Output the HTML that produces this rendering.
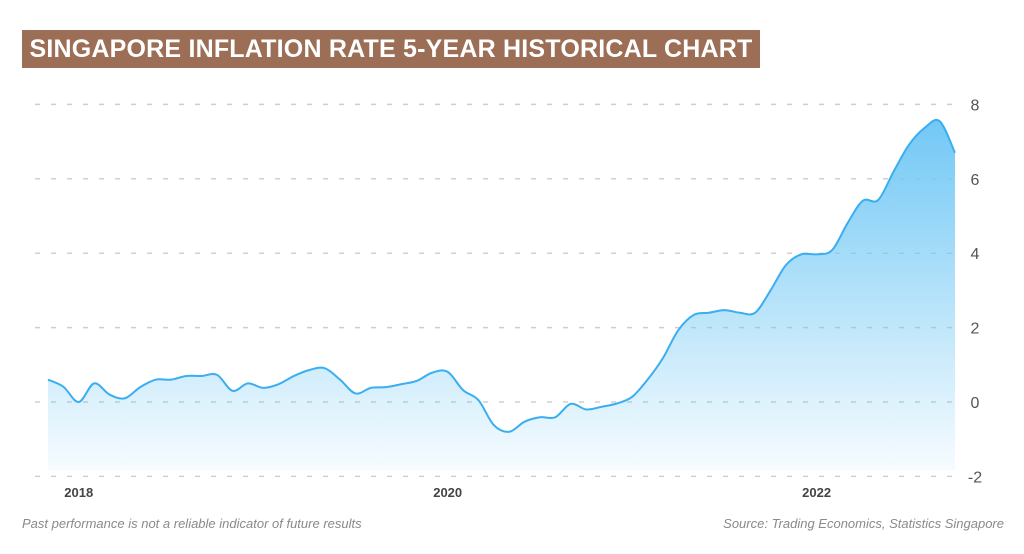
<!DOCTYPE html>
<html><head><meta charset="utf-8"><style>
body{margin:0;width:1024px;height:554px;background:#fff;overflow:hidden;font-family:"Liberation Sans",sans-serif}
#title{position:absolute;left:22px;top:30px;width:738px;height:38px;background:#9c6e55;color:#fff;font-weight:bold;font-size:25px;line-height:38px;text-align:center;letter-spacing:0.2px}
.foot{position:absolute;top:516px;font-size:13px;font-style:italic;color:#8a8a8a}
</style></head><body>
<div id="title">SINGAPORE INFLATION RATE 5-YEAR HISTORICAL CHART</div>
<svg id="chart" width="1024" height="554" style="position:absolute;left:0;top:0">
<defs><linearGradient id="g" x1="0" y1="0" x2="0" y2="1"><stop offset="0" stop-color="#72c8f5"/><stop offset="1" stop-color="#72c8f5" stop-opacity="0.06"/></linearGradient></defs>
</svg>
<div class="foot" style="left:22px">Past performance is not a reliable indicator of future results</div>
<div class="foot" style="right:20px">Source: Trading Economics, Statistics Singapore</div>
<script>
const values=[0.6,0.41,0.0,0.5,0.2,0.1,0.4,0.6,0.6,0.7,0.7,0.73,0.3,0.5,0.38,0.48,0.7,0.86,0.91,0.6,0.23,0.38,0.4,0.48,0.57,0.79,0.81,0.32,0.05,-0.62,-0.8,-0.53,-0.41,-0.41,-0.05,-0.2,-0.13,-0.04,0.14,0.6,1.18,1.93,2.34,2.4,2.47,2.4,2.4,3.0,3.68,3.97,3.97,4.08,4.8,5.41,5.43,6.19,6.91,7.36,7.55,6.7];
const yTicks=[-2,0,2,4,6,8];
const xTickLabels=["2018","2020","2022"];
const xTickIndex=[2,26,50];
const svg=document.getElementById('chart');const NS='http://www.w3.org/2000/svg';
const X0=48,X1=955,N=values.length;
function xs(i){return X0+(X1-X0)*i/(N-1);}
function ys(v){return 402-v*37.2;}
function mk(t,a){const e=document.createElementNS(NS,t);for(const k in a)e.setAttribute(k,a[k]);svg.appendChild(e);return e;}
yTicks.forEach(t=>{
 const l=mk('line',{x1:35,x2:962,y1:ys(t),y2:ys(t),stroke:'#cfcfcf','stroke-width':1.5,'stroke-dasharray':'5 11'});
 
 
 const tx=mk('text',{x:975,y:ys(t)+6,'font-size':16,fill:'#555','text-anchor':'middle'});tx.textContent=t;
 
 
});
xTickLabels.forEach((s,k)=>{
 const tx=mk('text',{x:xs(xTickIndex[k]),y:497,'font-size':13,'font-weight':'bold',fill:'#444','text-anchor':'middle'});tx.textContent=s;
 
 
});
const P=values.map((v,i)=>[xs(i),ys(v)]);
let d='M'+P[0][0]+','+P[0][1];
for(let i=0;i<N-1;i++){const p0=P[Math.max(0,i-1)],p1=P[i],p2=P[i+1],p3=P[Math.min(N-1,i+2)];
 d+=' C'+(p1[0]+(p2[0]-p0[0])/6)+','+(p1[1]+(p2[1]-p0[1])/6)+' '+(p2[0]-(p3[0]-p1[0])/6)+','+(p2[1]-(p3[1]-p1[1])/6)+' '+p2[0]+','+p2[1];}
const area=mk('path',{d:d+' L'+X1+',470 L'+X0+',470 Z',fill:'url(#g)'});


const line=mk('path',{d:d,fill:'none',stroke:'#3aaef0','stroke-width':2});


</script>
</body></html>
